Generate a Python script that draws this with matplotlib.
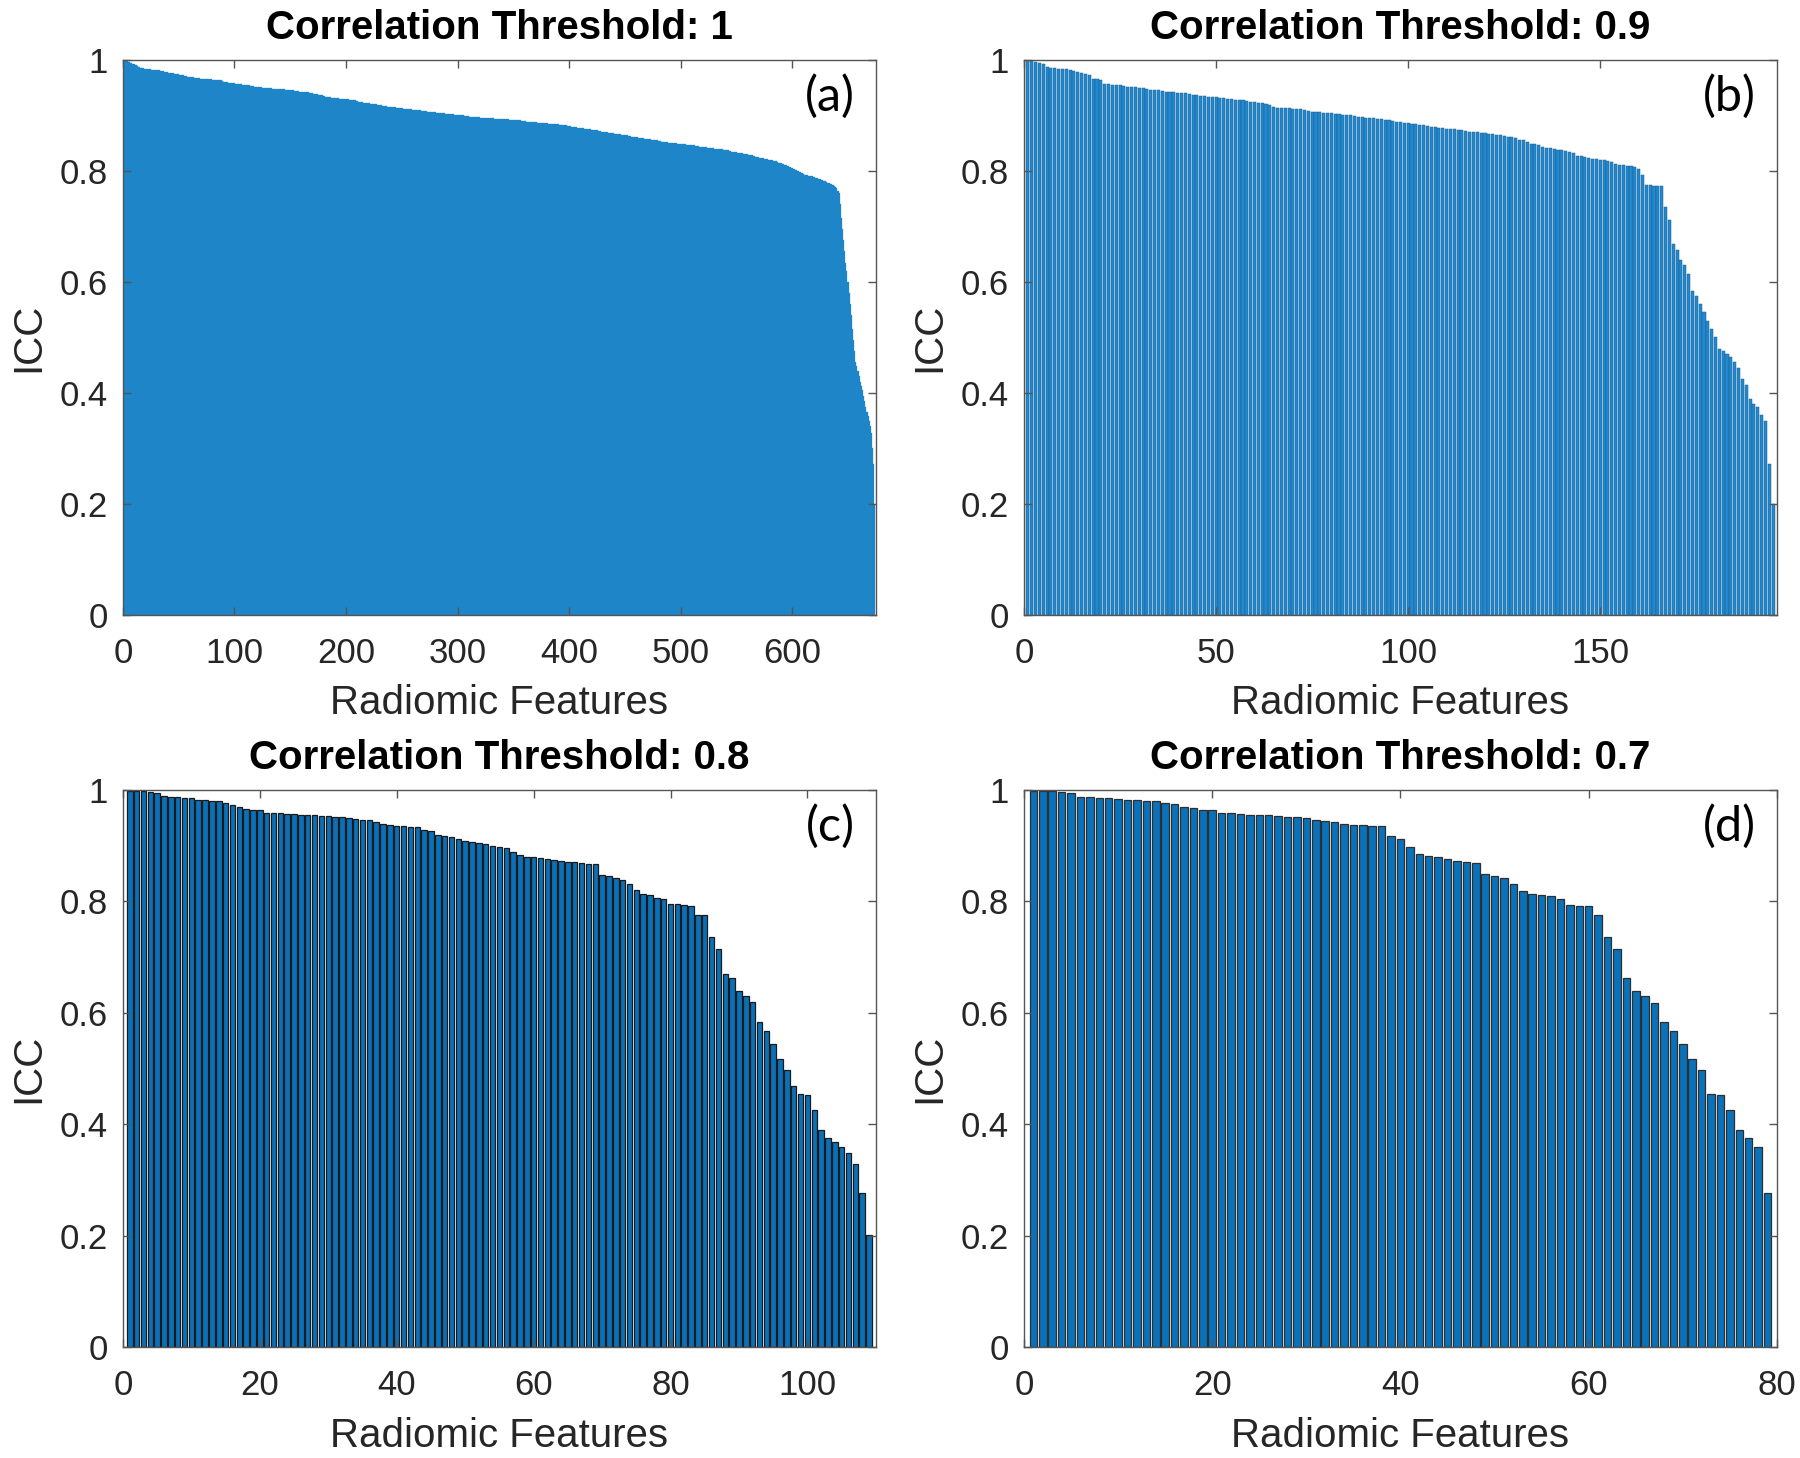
import numpy as np
import matplotlib.pyplot as plt

plt.rcParams["font.family"] = ["Liberation Sans", "DejaVu Sans"]

# ICC per radiomic feature (x1000), sorted high -> low
icc_thr1 = [
    1000, 999, 999, 998, 997, 996, 995, 994, 993, 992, 991, 990, 989, 988, 987, 986, 985, 985, 984,
    984, 984, 983, 983, 983, 983, 982, 982, 982, 982, 981, 981, 981, 981, 980, 980,
    980, 979, 979, 978, 978, 977, 977, 976, 976,
    976, 975, 975, 975, 974, 974, 973, 973, 972, 972, 971, 971,
    971, 970, 970, 970, 969, 969, 969, 968, 968, 968, 967, 967, 967, 966, 966,
    966, 966, 966, 965, 965, 965, 965, 965, 964, 964, 964, 964, 964, 964, 964,
    963, 963, 962, 961, 961, 960,
    960, 960, 959, 959, 959, 958, 958, 958, 957, 957, 957, 956, 956, 956, 955, 955, 955, 954, 954, 954, 954, 953, 953, 953,
    953, 952, 952, 952, 952, 951, 951, 951, 950, 950, 950, 950, 949, 949, 949,
    949, 949, 948, 948, 948, 948, 948, 948, 947, 947, 947, 947, 947, 947,
    946, 946, 946, 946, 945, 945, 945, 945, 944, 944, 944, 944, 943, 943, 943, 943, 943, 942, 942, 942, 942,
    941, 941, 940, 940, 939, 939, 938, 938, 937,
    937, 936, 936, 936, 935, 935, 934, 934, 933, 933, 933, 932,
    932, 932, 931, 931, 931, 931, 930, 930, 930, 930, 930, 929, 929, 929, 929, 928, 928, 928,
    927, 927, 927, 926, 926, 925, 925, 925, 924, 924, 923, 923, 923, 922, 922,
    922, 921, 921, 921, 920, 920, 920, 919, 919, 919, 918, 918, 917, 917,
    917, 917, 916, 916, 916, 916, 915, 915, 915, 915, 914, 914, 914, 913, 913,
    913, 913, 912, 912, 912, 912, 911, 911, 911, 911, 910, 910, 910, 909, 909,
    909, 909, 909, 908, 908, 908, 908, 908, 907, 907, 907, 907, 906, 906, 906,
    906, 905, 905, 905, 905, 904, 904, 904, 904, 903, 903, 903, 902, 902, 902,
    902, 902, 901, 901, 901, 901, 900, 900, 900, 900, 900, 899, 899, 899, 899,
    899, 898, 898, 898, 898, 898, 897, 897, 897, 897, 897, 896, 896, 896, 896,
    896, 896, 895, 895, 895, 895, 895, 895, 894, 894, 894, 894, 894, 894, 893, 893, 893, 893, 893, 893,
    893, 893, 892, 892, 892, 892, 892, 891, 891, 891, 891, 891, 890, 890, 890, 890, 890, 889, 889, 889,
    889, 889, 888, 888, 888, 888, 888, 887, 887, 887, 887, 887, 886, 886, 886, 886, 886, 885, 885, 885,
    885, 885, 884, 884, 884, 884, 883, 883, 883, 883, 882, 882, 882, 882, 881, 881,
    881, 880, 880, 880, 879, 879, 879, 878, 878, 878, 877, 877, 877, 876, 876, 876, 875, 875, 875, 874,
    874, 874, 873, 873, 873, 872, 872, 872, 871, 871, 871, 870, 870, 870, 869, 869, 869, 868, 868, 868,
    867, 867, 867, 866, 866, 866, 865, 865,
    865, 864, 864, 864, 863, 863, 863, 862, 862, 862, 861, 861, 861, 860, 860, 860, 859, 859, 859, 858,
    858, 858, 857, 857, 857, 856, 856, 856, 855, 855, 855, 854, 854, 854, 853, 853, 853, 852, 852, 852,
    851, 851, 851, 851, 850, 850, 850, 850, 849, 849, 849, 849,
    848, 848, 848, 848, 847, 847, 847, 847, 846, 846, 846, 846, 845, 845, 845, 845, 844, 844, 844, 844,
    843, 843, 843, 842, 842, 842, 841, 841, 841, 840, 840, 840, 840, 839, 839, 839, 839,
    838, 838, 838, 837, 837, 837, 836, 836, 835, 835, 835, 834, 834, 833, 833, 833, 832, 832, 831, 831,
    831, 830, 830, 829, 829, 828, 828, 827, 827, 826,
    826, 825, 825, 824, 824, 823, 823, 822, 822, 821, 821, 820, 820, 819, 819, 818, 818, 817, 817, 816,
    815, 814, 814, 813, 812, 811, 811, 810, 809, 808, 807, 806, 805,
    804, 803, 802, 801, 800, 799, 798, 797, 796, 795, 793,
    793, 792, 792, 791, 791, 790, 790, 789, 789, 788, 787, 787, 786, 785, 784,
    783, 782, 781, 781, 780, 779, 778, 777, 776, 775, 774, 773, 771, 769,
    763, 760, 740, 715, 695, 675, 655, 635, 620, 600, 580, 560, 540, 515, 495, 475, 455, 448, 440, 430,
    420, 412, 405, 395, 385, 375, 365, 358, 350, 340, 328, 300, 272, 200,
]

icc_thr09 = [
    999, 998, 997, 994, 993, 987, 986, 985, 984, 983, 983, 982, 980, 979, 976, 974, 972, 966, 965, 963, 956,
    956, 955, 955, 954, 953, 952, 951, 951, 950, 949,
    947, 946, 945, 945, 944, 943, 942, 942, 941, 940, 940, 939,
    937, 936, 935, 935, 934, 933, 933, 932, 931, 930, 929, 928, 928, 927, 926, 925, 925,
    923, 922, 921, 918, 916, 914,
    914, 913, 913, 912, 911, 911, 910, 908, 907,
    906, 906, 905, 905, 904, 903, 902, 901, 900, 900,
    899, 898, 897, 896, 896, 895, 894, 893, 892, 891,
    890, 889, 888, 887, 886, 885, 884, 883, 882, 881,
    880, 879, 878, 877, 876, 876, 875, 874, 873, 872,
    871, 871, 870, 869, 868, 867, 866, 865, 864, 863,
    862, 861, 860, 855,
    855, 852, 849, 848, 846, 844, 842, 841, 839, 838, 837, 836, 835, 833,
    827, 827, 826, 823, 822, 821, 820, 819, 818, 816, 813, 811, 810, 808, 808, 807, 803,
    793, 774, 774, 773, 773, 772,
    735, 712, 668, 658, 640, 630, 615, 583, 575, 560, 545, 530, 515, 500, 480,
    475, 470, 465, 455, 445, 425, 415, 390, 380, 375, 360, 350, 272, 200,
]

icc_thr08 = [
    999, 999, 998, 996, 995, 989, 988, 987, 986, 985,
    983, 982, 981, 980, 976, 974, 969, 966, 965, 964,
    959, 958, 958, 957, 957, 956, 956, 955, 954,
    953, 952, 951, 949, 948, 947, 946, 943,
    940, 937, 936, 935, 934, 933, 928, 926, 920, 918,
    916, 912, 908, 906, 905, 904, 900, 897, 896, 888,
    884, 880, 879, 878, 877, 875, 872, 871, 870, 869, 868, 868,
    847, 845, 843, 839, 832, 821, 814, 812, 807, 804,
    795, 795, 793, 791, 776, 776, 736, 714, 670, 662,
    640, 631, 619, 583, 568, 545, 518, 498, 468, 455,
    453, 425, 390, 375, 369, 359, 349, 329, 276, 201,
]

icc_thr07 = [
    999, 999, 999, 997, 995, 988, 987, 986, 985, 984,
    983, 982, 981, 980, 977, 975, 970, 967, 965, 964,
    958, 958, 957, 956, 955, 955, 954, 952, 951, 949,
    946, 945, 943, 940, 938, 937, 936, 936, 918,
    912, 898, 886, 882, 879, 877, 872, 870, 869,
    849, 845, 843, 831, 819, 813, 811, 809, 805, 794, 792, 791,
    776, 736, 714, 662, 640, 631, 618, 583, 568, 545,
    518, 498, 455, 453, 425, 390, 375, 359, 276,
]

titles = ["Correlation Threshold: 1", "Correlation Threshold: 0.9",
          "Correlation Threshold: 0.8", "Correlation Threshold: 0.7"]
tags = ["(a)", "(b)", "(c)", "(d)"]
xticks = [[0, 100, 200, 300, 400, 500, 600], [0, 50, 100, 150],
          [0, 20, 40, 60, 80, 100], [0, 20, 40, 60, 80]]
yticks = [0, 0.2, 0.4, 0.6, 0.8, 1]
ytick_labels = ["0", "0.2", "0.4", "0.6", "0.8", "1"]

series = [icc_thr1, icc_thr09, icc_thr08, icc_thr07]

# axes rectangles (figure fraction)
rects = [
    [0.0683, 0.5782, 0.4183, 0.3807],
    [0.5689, 0.5782, 0.4183, 0.3807],
    [0.0683, 0.0761, 0.4183, 0.3820],
    [0.5689, 0.0761, 0.4183, 0.3820],
]
# bar looks: (width, face, edge, edge lw)
bar_style = [
    (1.0, "#1e85c8", "#1e85c8", 0.2),
    (0.8, "#2189d0", "#1f5f8e", 0.35),
    (0.8, "#0a70b8", "#1a1a1a", 0.9),
    (0.8, "#0a72bb", "#2e2e2e", 0.9),
]

text_grey = "#262626"

fig = plt.figure(figsize=(18, 14.58), dpi=100)

for i in range(4):
    ax = fig.add_axes(rects[i])
    y = np.array(series[i]) / 1000.0
    x = np.arange(1, len(y) + 1)
    w, fc, ec, lw = bar_style[i]
    ax.bar(x, y, width=w, color=fc, edgecolor=ec, linewidth=lw)

    ax.set_xlim(0, len(y) + 1)
    ax.set_ylim(0, 1)
    ax.set_xticks(xticks[i])
    ax.set_yticks(yticks)
    ax.set_yticklabels(ytick_labels)
    ax.tick_params(axis="both", direction="in", length=6, width=1,
                   top=True, right=True, colors="#555555",
                   labelcolor=text_grey, labelsize=25)
    ax.tick_params(axis="x", pad=16)
    ax.tick_params(axis="y", pad=11)
    for s in ax.spines.values():
        s.set_color("#555555")
        s.set_linewidth(1.0)

    ax.set_xlabel("Radiomic Features", fontsize=29, color=text_grey)
    ax.set_ylabel("ICC", fontsize=29, color=text_grey)
    ax.xaxis.set_label_coords(0.5, -0.125)
    ax.yaxis.set_label_coords(-0.10, 0.5)
    ax.set_title(titles[i], fontsize=29, fontweight="bold", color="black", pad=15)
    ax.text(0.972, 0.935, tags[i], transform=ax.transAxes, ha="right", va="center",
            fontsize=35, family=["Lato", "DejaVu Sans"], color="black")

fig.savefig("out.png", dpi=100)
